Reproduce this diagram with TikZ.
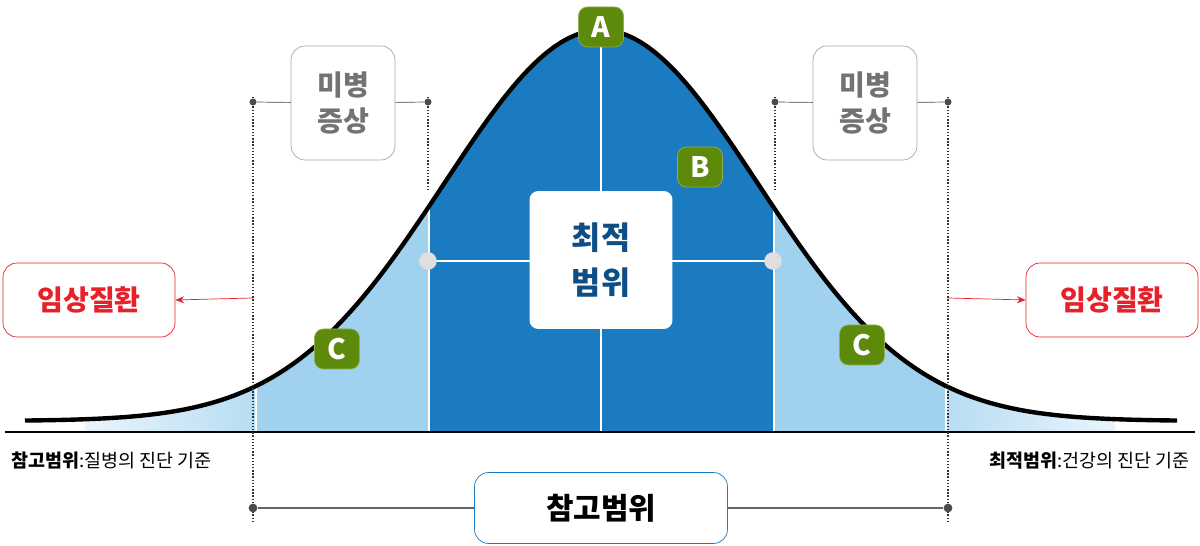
\documentclass[tikz,border=0pt]{standalone}
\usepackage{fontspec}
\setmainfont{Noto Sans CJK KR}
\usetikzlibrary{arrows.meta}
\definecolor{deepblue}{HTML}{1A7BC0}
\definecolor{paleblue}{HTML}{A0D2F0}
\definecolor{faintblue}{HTML}{B8DDF3}
\definecolor{leafgreen}{HTML}{5E8A0C}
\definecolor{navytext}{HTML}{0D4E86}
\definecolor{alertred}{HTML}{E8202A}
\tikzset{
    badge/.style={fill=leafgreen,draw=leafgreen!70!white,rounded corners=5pt,minimum width=0.9cm,minimum height=0.8cm,text=white,font=\fontsize{16}{16}\selectfont\bfseries},
    symptom/.style={draw=gray!70,rounded corners=8pt,fill=white,minimum width=2.08cm,minimum height=2.28cm,text=gray!90!black,align=center,font=\fontsize{16}{21}\selectfont\bfseries},
    clinic/.style={draw=alertred,rounded corners=8pt,fill=white,minimum width=3.44cm,minimum height=1.48cm,text=alertred,font=\fontsize{16}{16}\selectfont\bfseries},
    guide/.style={densely dotted,thick,black!80},
    knob/.style={circle,fill=black!70,inner sep=0pt,minimum size=4pt}
}
\begin{document}
\begin{tikzpicture}[x=0.02cm,y=-0.02cm]
    \useasboundingbox (0,0) rectangle (1200,546);
    % shaded bands under the curve
    \begin{scope}
        \clip (25,432) -- plot[domain=25:1177,samples=160] (\x,{421-391*exp(-((\x-601)/157)^2/2)}) -- (1177,432) -- cycle;
        \shade[left color=faintblue!30,right color=faintblue] (85,300) rectangle (255,432);
        \shade[left color=faintblue,right color=faintblue!30] (947,300) rectangle (1115,432);
        \fill[paleblue] (257,0) rectangle (428,432);
        \fill[paleblue] (775,0) rectangle (945,432);
        \fill[deepblue] (430,0) rectangle (773,432);
        \draw[white,line width=1.5pt] (601,0) -- (601,432);
        \draw[white,line width=1.5pt] (428,261) -- (773,261);
    \end{scope}
    \draw[line width=2.5pt] plot[domain=25:1177,samples=160] (\x,{421-391*exp(-((\x-601)/157)^2/2)});
    \fill[gray!25] (428,261) circle (5pt) (773,261) circle (5pt);
    % baseline
    \draw[line width=1.2pt] (5,432) -- (1195,432);
    % guides
    \draw[guide] (253,97) -- (253,522);
    \draw[guide] (428,97) -- (428,190);
    \draw[guide] (775,97) -- (775,190);
    \draw[guide] (948,97) -- (948,522);
    % labels on curve
    \node[badge] (pa) at (601,27) {A};
    \node[badge] (pb) at (700,167) {B};
    \node[badge] (pcl) at (337,349) {C};
    \node[badge] (pcr) at (862,345) {C};
    \node[fill=white,rounded corners=5pt,minimum width=2.86cm,minimum height=2.76cm,align=center,text=navytext,font=\fontsize{18}{26}\selectfont\bfseries] (best) at (601,260) {최적\\범위};
    % mild symptoms
    \node[symptom] (mildl) at (343,103) {미병\\증상};
    \node[symptom] (mildr) at (865,103) {미병\\증상};
    \node[knob] (kl1) at (253,102) {};
    \node[knob] (kl2) at (428,102) {};
    \node[knob] (kr1) at (775,102) {};
    \node[knob] (kr2) at (948,102) {};
    \draw[black!70] (kl1) -- (mildl) -- (kl2);
    \draw[black!70] (kr1) -- (mildr) -- (kr2);
    % clinical disease
    \node[clinic] (sickl) at (89,300) {임상질환};
    \node[clinic] (sickr) at (1112,300) {임상질환};
    \coordinate (al) at (253,298);
    \coordinate (ar) at (948,298);
    \draw[alertred,-{Stealth[length=5pt,width=4pt]}] (al) -- (sickl.east);
    \draw[alertred,-{Stealth[length=5pt,width=4pt]}] (ar) -- (sickr.west);
    % criteria
    \node[anchor=west,font=\fontsize{10.5}{10.5}\selectfont] (critl) at (5,461) {\textbf{참고범위}:질병의 진단 기준};
    \node[anchor=east,font=\fontsize{10.5}{10.5}\selectfont] (critr) at (1196,461) {\textbf{최적범위}:건강의 진단 기준};
    % reference range
    \node[knob,minimum size=5pt] (rl) at (253,508) {};
    \node[knob,minimum size=5pt] (rr) at (948,508) {};
    \node[draw=deepblue,fill=white,rounded corners=8pt,minimum width=5.06cm,minimum height=1.42cm,font=\fontsize{17}{17}\selectfont\bfseries] (refr) at (601,508) {참고범위};
    \draw[black!60,thick] (rl) -- (refr) -- (rr);
\end{tikzpicture}
\end{document}
